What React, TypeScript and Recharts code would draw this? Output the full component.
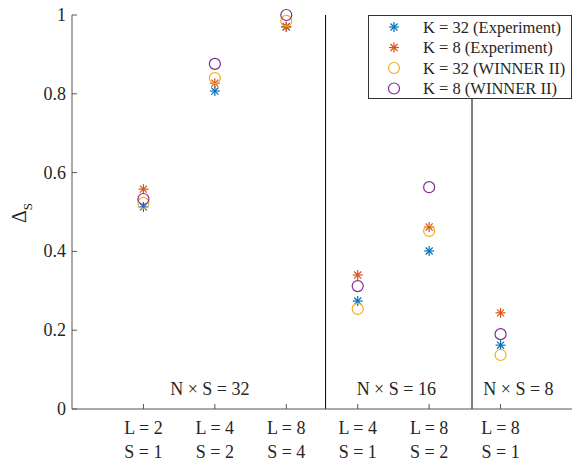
import React from 'react';
import { ScatterChart, Scatter, XAxis, YAxis, ReferenceLine, ReferenceDot } from 'recharts';

const categories = [1, 2, 3, 4, 5, 6];
const tickL = ['L = 2', 'L = 4', 'L = 8', 'L = 4', 'L = 8', 'L = 8'];
const tickS = ['S = 1', 'S = 2', 'S = 4', 'S = 1', 'S = 2', 'S = 1'];
const yTicks = [0, 0.2, 0.4, 0.6, 0.8, 1];

const k32Experiment = [0.513, 0.807, 0.97, 0.274, 0.401, 0.162];
const k8Experiment = [0.558, 0.827, 0.97, 0.34, 0.462, 0.244];
const k32Winner = [0.523, 0.84, 0.985, 0.254, 0.452, 0.137];
const k8Winner = [0.533, 0.876, 1.0, 0.312, 0.563, 0.19];

const separators = [3.55, 5.6];
const groupLabels = [
  { x: 1.93, y: 0.051, text: 'N × S = 32' },
  { x: 4.54, y: 0.051, text: 'N × S = 16' },
  { x: 6.25, y: 0.051, text: 'N × S = 8' },
];

const FONT = "'Liberation Serif', 'DejaVu Serif', 'Times New Roman', Times, serif";
const AXIS = '#555';
const TEXT = '#262626';
const textStyle = { fontFamily: FONT };

const series = [
  { name: 'K = 32 (Experiment)', values: k32Experiment, color: '#0072BD', marker: 'star' },
  { name: 'K = 8 (Experiment)', values: k8Experiment, color: '#D95319', marker: 'star' },
  { name: 'K = 32 (WINNER II)', values: k32Winner, color: '#EDB120', marker: 'circle' },
  { name: 'K = 8 (WINNER II)', values: k8Winner, color: '#7E2F8E', marker: 'circle' },
];

const Marker = ({ cx, cy, color, marker }: any) => {
  if (cx == null || cy == null) return null;
  if (marker === 'circle') {
    return <circle cx={cx} cy={cy} r={5.5} fill="none" stroke={color} strokeWidth={1.2} />;
  }
  const r = 5;
  const d = r * 0.7071;
  return (
    <g stroke={color} strokeWidth={1.2}>
      <line x1={cx - r} y1={cy} x2={cx + r} y2={cy} />
      <line x1={cx} y1={cy - r} x2={cx} y2={cy + r} />
      <line x1={cx - d} y1={cy - d} x2={cx + d} y2={cy + d} />
      <line x1={cx - d} y1={cy + d} x2={cx + d} y2={cy - d} />
    </g>
  );
};

const XTick = ({ x, y, payload }: any) => {
  const i = categories.indexOf(payload.value);
  return (
    <g>
      <line x1={x} y1={y} x2={x} y2={y - 5} stroke={AXIS} strokeWidth={1} />
      <text x={x} y={y + 25} textAnchor="middle" style={textStyle} fontSize={18} fill={TEXT}>{tickL[i]}</text>
      <text x={x} y={y + 49} textAnchor="middle" style={textStyle} fontSize={18} fill={TEXT}>{tickS[i]}</text>
    </g>
  );
};

const YTick = ({ x, y, payload }: any) => (
  <g>
    <line x1={x} y1={y} x2={x + 5} y2={y} stroke={AXIS} strokeWidth={1} />
    <text x={x - 6} y={y + 6} textAnchor="end" style={textStyle} fontSize={18} fill={TEXT}>{String(payload.value)}</text>
  </g>
);

const YLabel = () => (
  <text transform="translate(26,213) rotate(-90)" textAnchor="middle" style={textStyle} fontSize={20} fill={TEXT}>
    Δ<tspan dy={6} fontSize={13}>S</tspan>
  </text>
);

const LegendBox = () => (
  <div style={{ position: 'absolute', left: 368, top: 15, width: 204, height: 84, border: '1px solid #333', background: '#fff', boxSizing: 'border-box' }}>
    <svg width={202} height={82} style={{ position: 'absolute', left: 0, top: 0 }}>
      {series.map((s, i) => (
        <g key={s.name}>
          <Marker cx={25} cy={11 + i * 20.5} color={s.color} marker={s.marker} />
          <text x={54} y={16.5 + i * 20.5} style={textStyle} fontSize={16.5} fill={TEXT}>{s.name}</text>
        </g>
      ))}
    </svg>
  </div>
);

export default function App() {
  return (
    <div style={{ position: 'absolute', left: 0, top: 0, width: 572, height: 464, background: '#fff', fontFamily: FONT }}>
      <ScatterChart width={572} height={464} margin={{ top: 15, right: 0, bottom: 0, left: 0 }} style={{ fontFamily: FONT }}>
        <XAxis
          type="number"
          dataKey="x"
          domain={[0, 7]}
          ticks={categories}
          height={55}
          tickSize={0}
          tickMargin={0}
          tickLine={false}
          axisLine={{ stroke: AXIS }}
          tick={<XTick />}
          interval={0}
        />
        <YAxis
          type="number"
          dataKey="y"
          domain={[0, 1]}
          ticks={yTicks}
          width={72}
          tickSize={0}
          tickMargin={0}
          tickLine={false}
          axisLine={{ stroke: AXIS }}
          tick={<YTick />}
          interval={0}
          label={<YLabel />}
        />
        {separators.map((s) => (
          <ReferenceLine key={s} x={s} stroke="#000" strokeWidth={1} ifOverflow="visible" />
        ))}
        {groupLabels.map((g) => (
          <ReferenceDot
            key={g.text}
            x={g.x}
            y={g.y}
            r={0}
            fill="none"
            stroke="none"
            ifOverflow="visible"
            label={{ value: g.text, position: 'center', style: textStyle, fontFamily: FONT, fontSize: 18, fill: TEXT }}
          />
        ))}
        {series.map((s) => (
          <Scatter
            key={s.name}
            name={s.name}
            data={categories.map((c, i) => ({ x: c, y: s.values[i] }))}
            isAnimationActive={false}
            shape={(p: any) => <Marker cx={p.cx} cy={p.cy} color={s.color} marker={s.marker} />}
          />
        ))}
      </ScatterChart>
      <LegendBox />
    </div>
  );
}
